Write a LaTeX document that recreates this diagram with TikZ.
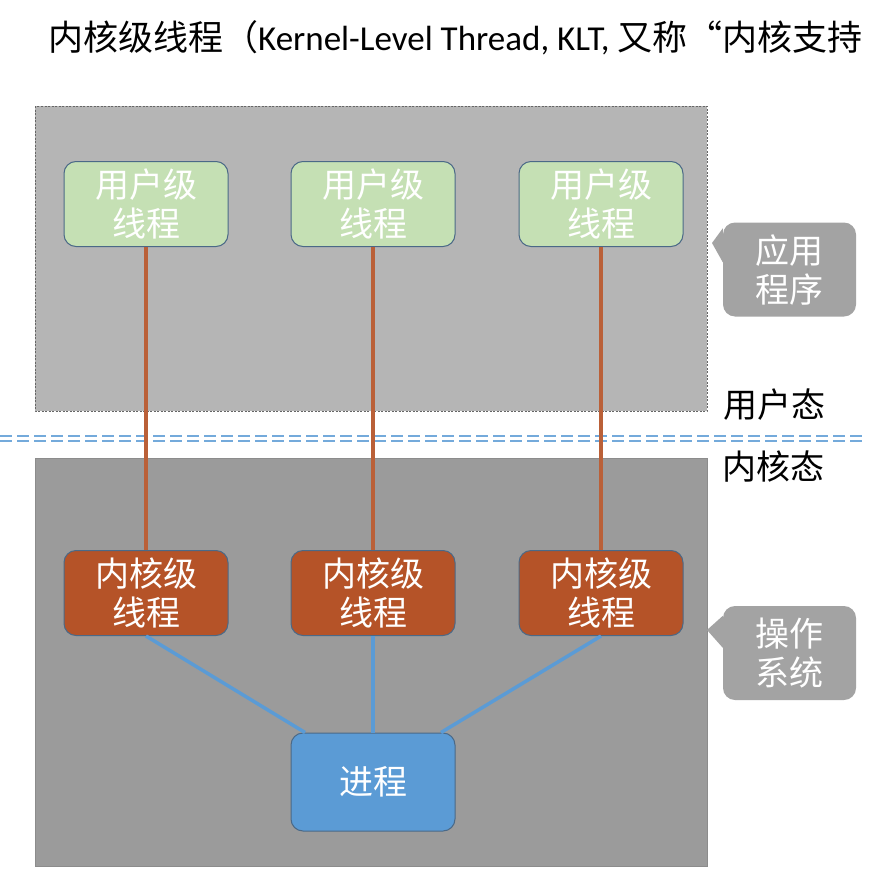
\documentclass[tikz,border=0pt]{standalone}
\usepackage{fontspec}
\setmainfont{Carlito}
\newfontfamily\cjk{Noto Sans CJK SC}
\definecolor{appgray}{RGB}{181,181,181}
\definecolor{osgray}{RGB}{155,155,155}
\definecolor{callgray}{RGB}{163,163,163}
\definecolor{ultgreen}{RGB}{197,224,180}
\definecolor{kltrust}{RGB}{181,83,40}
\definecolor{linkbrown}{RGB}{186,96,56}
\definecolor{procblue}{RGB}{91,155,213}
\definecolor{edgeblue}{RGB}{75,105,135}

\begin{document}
\begin{tikzpicture}[x=1pt, y=-1pt,
		every node/.style={font=\cjk\fontsize{34}{39}\selectfont, align=center},
		thread/.style={rounded corners=12pt, draw=edgeblue, line width=1pt,
				minimum width=164pt, minimum height=85pt, text=white},
		ult/.style={thread, fill=ultgreen},
		klt/.style={thread, fill=kltrust},
		proc/.style={thread, fill=procblue, minimum height=98pt},
		callout/.style={rounded corners=12pt, fill=callgray, text=white,
				minimum width=133pt, minimum height=94pt},
		uplink/.style={linkbrown, line width=3.5pt},
		downlink/.style={procblue, line width=3.5pt},
		split/.style={procblue!85, line width=2.5pt, dash pattern=on 12pt off 5pt}]
	\useasboundingbox (0,0) rectangle (884,886);

	% title
	\node[anchor=west, inner sep=0pt, font=\cjk\fontsize{35}{40}\selectfont] (title) at (48,38)
		{内核级线程（{\rmfamily Kernel-Level Thread, KLT,} 又称“内核支持};

	% user space and kernel space
	\draw[fill=appgray, draw=black!60, dashed, line width=0.6pt, dash pattern=on 2pt off 1.5pt]
		(35,106) rectangle (707,411);
	\draw[fill=osgray, draw=black!45, line width=1pt] (35,458) rectangle (707,866);

	\draw[split] (0,436)--(862,436);
	\draw[split] (0,441)--(862,441);

	\node[anchor=west] (userlbl) at (720,405) {用户态};
	\node[anchor=west] (kernlbl) at (719,467) {内核态};

	% threads
	\foreach \i/\x in {1/146, 2/373, 3/601}
		{
			\node[ult] (u\i) at (\x,204) {用户级\\线程};
			\node[klt] (k\i) at (\x,593) {内核级\\线程};
		}
	\node[proc] (p) at (373,782) {进程};

	\foreach \i in {1,2,3}
		{
			\draw[uplink] (u\i.south)--(k\i.north);
		}
	\draw[downlink] (k1.south)--([xshift=-68pt]p.north);
	\draw[downlink] (k2.south)--(p.north);
	\draw[downlink] (k3.south)--([xshift=68pt]p.north);

	% callouts
	\node[callout] (app) at (789.5,269.5) {应用\\程序};
	\fill[callgray] ([yshift=-6pt]app.north west)--(712,243)--([yshift=-40pt]app.north west);
	\node[callout] (os) at (789.5,653) {操作\\系统};
	\fill[callgray] ([yshift=-10pt]os.north west)--(707,630)--([yshift=-42pt]os.north west);
\end{tikzpicture}
\end{document}
